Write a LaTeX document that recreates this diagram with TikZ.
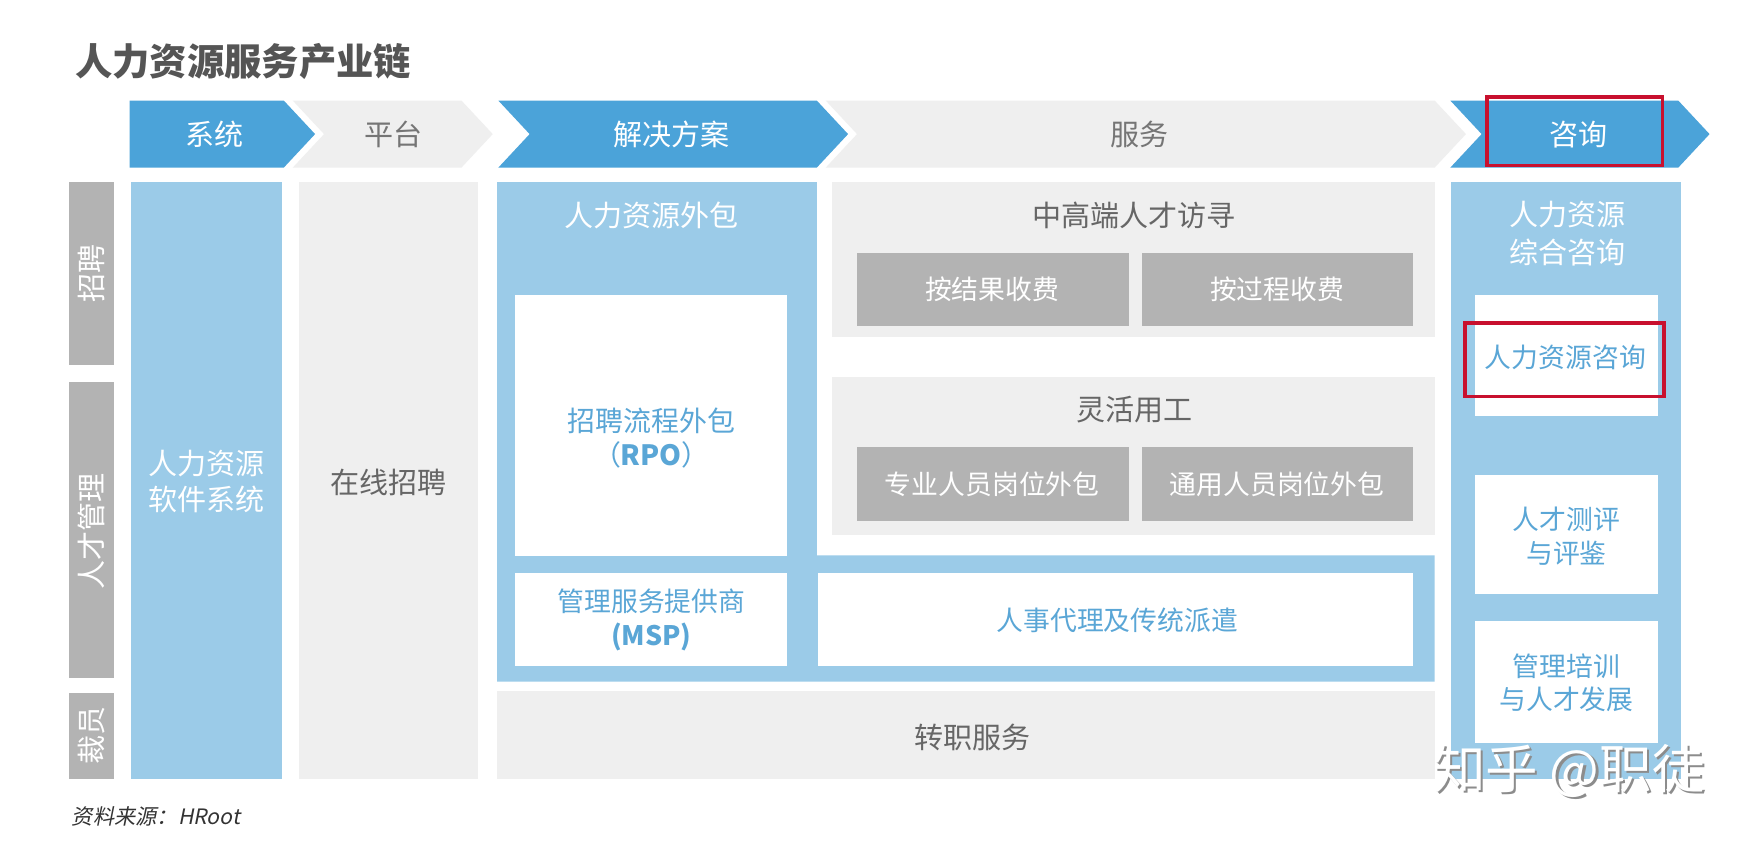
\documentclass[tikz,border=0pt]{standalone}
\usepackage{fontspec}
\setmainfont{Noto Sans CJK SC}
\newfontfamily\cjkslant[FakeSlant=0.2]{Noto Sans CJK SC}
\definecolor{hblue}{HTML}{4BA3D9}
\definecolor{lblue}{HTML}{9BCBE8}
\definecolor{lgray}{HTML}{EFEFEF}
\definecolor{mgray}{HTML}{B3B3B3}
\definecolor{tgray}{HTML}{666666}
\definecolor{ttitle}{HTML}{555555}
\definecolor{tblue}{HTML}{5AA6D6}
\definecolor{hred}{HTML}{C8102E}
\tikzset{
  big/.style={font=\fontsize{13}{16}\selectfont},
  small/.style={font=\fontsize{12}{15}\selectfont},
  wtxt/.style={text=white, align=center, inner sep=0pt},
  gtxt/.style={text=tgray, align=center, inner sep=0pt},
  btxt/.style={text=tblue, align=center, inner sep=0pt},
  redbox/.style={draw=hred, line width=1.6pt},
}
\begin{document}
\begin{tikzpicture}[x=0.5pt,y=-0.5pt]
\useasboundingbox (0,0) rectangle (1568,757);
\fill[white] (0,0) rectangle (1568,757);

% title
\node[anchor=west, inner sep=0pt, text=ttitle, font=\fontsize{16.7}{18}\selectfont\bfseries] (title) at (67,55) {人力资源服务产业链};

% header chevrons
\fill[hblue] (116,90) -- (254,90) -- (282,120) -- (254,150) -- (116,150) -- cycle;
\fill[lgray] (262,90) -- (413,90) -- (441,120) -- (413,150) -- (262,150) -- (290,120) -- cycle;
\fill[hblue] (446,90) -- (731,90) -- (759,120) -- (731,150) -- (446,150) -- (474,120) -- cycle;
\fill[lgray] (739,90) -- (1284,90) -- (1312,120) -- (1284,150) -- (739,150) -- (767,120) -- cycle;
\fill[hblue] (1298,90) -- (1502,90) -- (1530,120) -- (1502,150) -- (1298,150) -- (1326,120) -- cycle;
\node[wtxt, big] (hsys) at (192,120) {系统};
\node[gtxt, big, text=tgray!90] (hplat) at (352,120) {平台};
\node[wtxt, big] (hsol) at (601,120) {解决方案};
\node[gtxt, big, text=tgray!90] (hserv) at (1020,120) {服务};
\node[wtxt, big] (hcons) at (1413,120) {咨询};
\draw[redbox] (1331,87) rectangle (1488,148);

% left row labels
\fill[mgray] (62,163) rectangle (102,327);
\fill[mgray] (62,342) rectangle (102,607);
\fill[mgray] (62,620) rectangle (102,697);
\node[wtxt, big, rotate=90] (lrec) at (82,245) {招聘};
\node[wtxt, big, rotate=90] (ltal) at (82,476) {人才管理};
\node[wtxt, big, rotate=90] (llay) at (82,658) {裁员};

% system column
\fill[lblue] (117,163) rectangle (252,697);
\node[wtxt, big, font=\fontsize{13}{16}\selectfont] (sys) at (185,431) {人力资源\\软件系统};

% platform column
\fill[lgray] (268,163) rectangle (428,697);
\node[gtxt, big] (plat) at (348,432) {在线招聘};

% solutions region
\fill[lblue] (445,163) -- (731,163) -- (731,497) -- (1284,497) -- (1284,610) -- (445,610) -- cycle;
\node[wtxt, big] (hro) at (583,193) {人力资源外包};
\fill[white] (461,264) rectangle (704,498);
\node[btxt, font=\fontsize{12.5}{15.5}\selectfont] (rpo) at (583,392) {招聘流程外包\\（\textbf{RPO}）};
\fill[white] (461,513) rectangle (704,596);
\node[btxt, small] (msp) at (583,555) {管理服务提供商\\\textbf{(MSP)}};
\fill[white] (732,513) rectangle (1265,596);
\node[btxt, small] (agency) at (1000,555) {人事代理及传统派遣};

% services
\fill[lgray] (745,163) rectangle (1284,302);
\node[gtxt, big] (exec) at (1015,193) {中高端人才访寻};
\fill[mgray] (767,226) rectangle (1010,292);
\fill[mgray] (1022,226) rectangle (1265,292);
\node[wtxt, small] (res) at (888,259) {按结果收费};
\node[wtxt, small] (proc) at (1143,259) {按过程收费};

\fill[lgray] (745,337) rectangle (1284,479);
\node[gtxt, big] (flex) at (1015,367) {灵活用工};
\fill[mgray] (767,400) rectangle (1010,466);
\fill[mgray] (1022,400) rectangle (1265,466);
\node[wtxt, small] (pro) at (888,433) {专业人员岗位外包};
\node[wtxt, small] (gen) at (1143,433) {通用人员岗位外包};

% outplacement
\fill[lgray] (445,618) rectangle (1284,697);
\node[gtxt, big] (outp) at (870,660) {转职服务};

% consulting column
\fill[lblue] (1299,163) rectangle (1504,697);
\node[wtxt, big, font=\fontsize{13}{17}\selectfont] (cons) at (1403,209) {人力资源\\综合咨询};
\fill[white] (1320,264) rectangle (1484,372);
\node[btxt, small] (hrc) at (1401,320) {人力资源咨询};
\draw[redbox] (1311,289) rectangle (1489,355);
\fill[white] (1320,425) rectangle (1484,532);
\node[btxt, small] (assess) at (1402,480) {人才测评\\与评鉴};
\fill[white] (1320,556) rectangle (1484,665);
\node[btxt, small] (train) at (1402,611) {管理培训\\与人才发展};

% source
\node[anchor=west, inner sep=0pt, text=black!80, font=\fontsize{9.5}{11}\selectfont\cjkslant] (src) at (64,731) {资料来源：HRoot};

% watermark
\node[text=black!45, inner sep=0pt, font=\fontsize{23.5}{25}\selectfont] (wmshadow) at (1406,692) {知乎 @职徒};
\node[text=white, inner sep=0pt, font=\fontsize{23.5}{25}\selectfont] (wm) at (1404,690) {知乎 @职徒};
\end{tikzpicture}
\end{document}
